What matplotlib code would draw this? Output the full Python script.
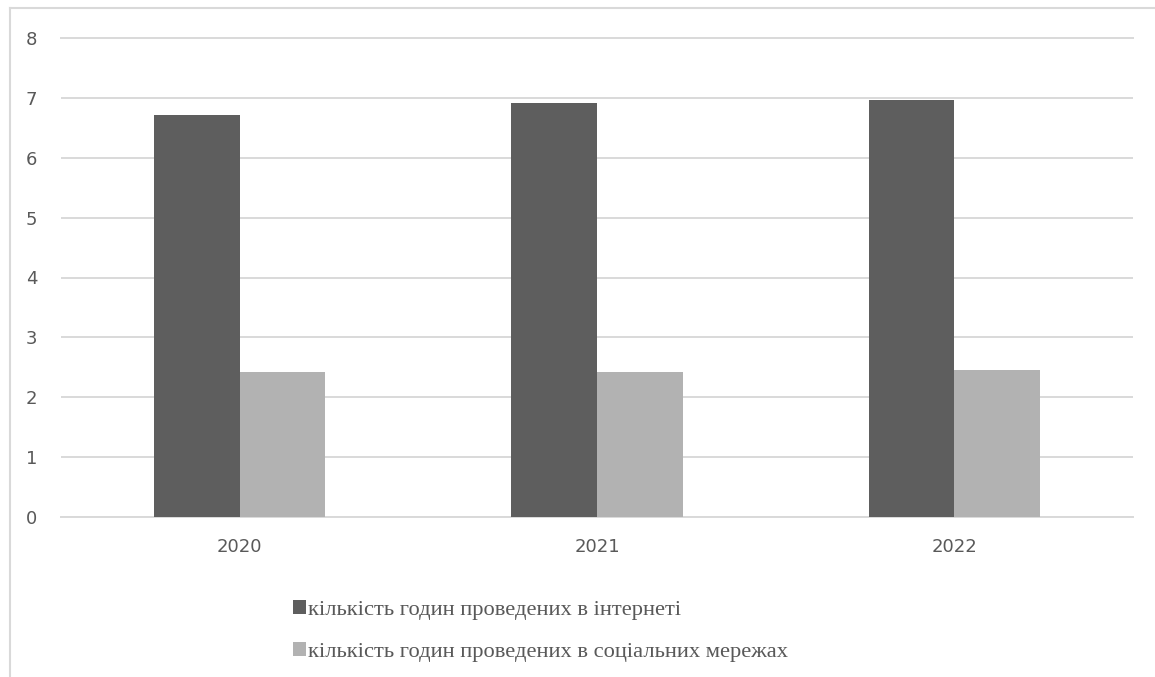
# Hours spent online vs. on social networks, 2020-2022

import matplotlib.pyplot as plt
import numpy as np
from matplotlib.lines import Line2D

years = ['2020', '2021', '2022']
internet_hours = [6.72, 6.91, 6.97]
social_hours = [2.42, 2.42, 2.46]
series_labels = ['кількість годин проведених в інтернеті',
                 'кількість годин проведених в соціальних мережах']
y_ticks = [0, 1, 2, 3, 4, 5, 6, 7, 8]

dark = '#5e5e5e'
light = '#b2b2b2'
grid_col = '#d9d9d9'
text_col = '#595959'

fig = plt.figure(figsize=(11.55, 6.77), dpi=100)
ax = fig.add_axes([61 / 1155, 1 - 517 / 677, (1133 - 61) / 1155, (517 - 38) / 677])

x = np.arange(len(years))
w = 0.24
b1 = ax.bar(x - w / 2, internet_hours, w, color=dark, label=series_labels[0], zorder=3)
b2 = ax.bar(x + w / 2, social_hours, w, color=light, label=series_labels[1], zorder=3)

ax.set_xlim(-0.5, len(years) - 0.5)
ax.set_ylim(0, 8)
ax.set_yticks(y_ticks)
ax.set_xticks(x)
ax.set_xticklabels(years)
ax.grid(axis='y', color=grid_col, lw=1.4, zorder=0)
ax.get_ygridlines()[-1].set_clip_on(False)
for s in ['top', 'right', 'left']:
    ax.spines[s].set_visible(False)
ax.spines['bottom'].set_color(grid_col)
ax.spines['bottom'].set_linewidth(1.4)
ax.tick_params(axis='both', length=0, colors=text_col, labelsize=13)
ax.tick_params(axis='y', pad=17)
ax.tick_params(axis='x', pad=15)

# chart frame (left and top edge only visible)
fig.add_artist(Line2D([9.5 / 1155, 9.5 / 1155], [0, 1 - 8 / 677],
                      transform=fig.transFigure, color=grid_col, lw=1.5))
fig.add_artist(Line2D([9.5 / 1155, 1], [1 - 8 / 677, 1 - 8 / 677],
                      transform=fig.transFigure, color=grid_col, lw=1.5))

leg = fig.legend(handles=[b1, b2], loc='upper left',
                 bbox_to_anchor=(282 / 1155, 1 - 589 / 677),
                 frameon=False, ncol=1, handlelength=0.55, handleheight=0.55,
                 handletextpad=0.12, labelspacing=1.0, borderpad=0,
                 prop={'family': 'Liberation Serif', 'size': 16.2})
for t in leg.get_texts():
    t.set_color(text_col)

fig.savefig('out.png', dpi=100, facecolor='white')
